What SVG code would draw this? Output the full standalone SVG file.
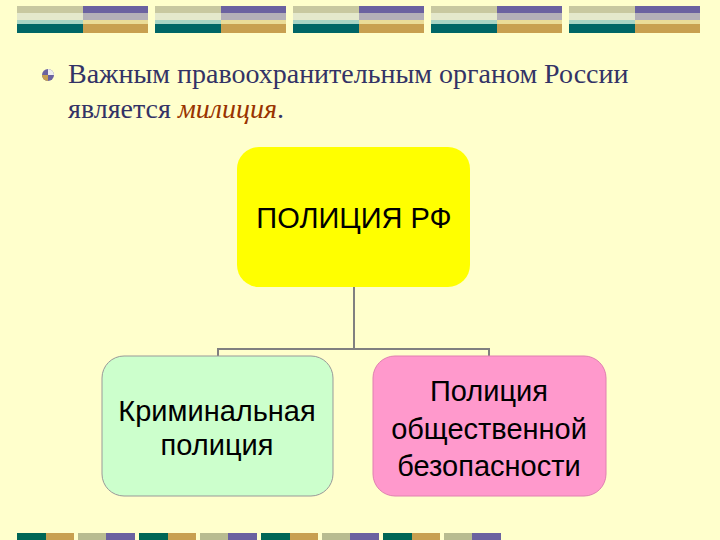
<svg xmlns="http://www.w3.org/2000/svg" width="720" height="540" viewBox="0 0 720 540">
<defs>
<style>
.t{font-family:"Liberation Serif",serif;font-size:28px;fill:#333366}
.s{font-family:"Liberation Sans",sans-serif;font-size:29px;fill:#000}
.c{stroke:#808080;stroke-width:2;fill:none}
</style>
<g id="blk">
<rect x="0" y="0" width="66" height="7" fill="#c8c8a0"/>
<rect x="0" y="7" width="66" height="7" fill="#e4e8cc"/>
<rect x="0" y="14" width="66" height="4" fill="#a8d4c4"/>
<rect x="0" y="18" width="66" height="9" fill="#006666"/>
<rect x="66" y="0" width="65" height="7" fill="#6b62a0"/>
<rect x="66" y="7" width="65" height="7" fill="#b4b0b8"/>
<rect x="66" y="14" width="65" height="4" fill="#eadc98"/>
<rect x="66" y="18" width="65" height="9" fill="#c8a050"/>
</g>
<g id="bot">
<rect x="0" y="0" width="29" height="7" fill="#006655"/>
<rect x="29" y="0" width="28" height="7" fill="#c8a050"/>
<rect x="61" y="0" width="28" height="7" fill="#b8bc90"/>
<rect x="89" y="0" width="29" height="7" fill="#6b62a0"/>
</g>
</defs>
<rect width="720" height="540" fill="#ffffcc"/>
<use href="#blk" x="17" y="6"/><use href="#blk" x="155" y="6"/><use href="#blk" x="293" y="6"/><use href="#blk" x="431" y="6"/><use href="#blk" x="569" y="6"/>
<use href="#bot" x="17" y="533"/><use href="#bot" x="139" y="533"/><use href="#bot" x="261" y="533"/><use href="#bot" x="383" y="533"/>
<g id="bullet">
<circle cx="48" cy="75" r="6" fill="#6b62a0"/>
<path d="M48 69 A6 6 0 0 1 54 75 L48 75 Z" fill="#eee"/>
<path d="M42 75 A6 6 0 0 0 48 81 L48 75 Z" fill="#c8a050"/>
</g>
<text class="t" x="68" y="83">Важным правоохранительным органом России</text>
<text class="t" x="68" y="118">является <tspan font-style="italic" fill="#993300">милиция</tspan>.</text>
<g id="connectors">
<path class="c" d="M354 287 V349 M218 356 V349 H489 V356"/>
</g>
<g id="root">
<rect x="237" y="147" width="233" height="140" rx="22" fill="#ffff00"/>
<text class="s" x="354" y="228" text-anchor="middle" font-size="31">ПОЛИЦИЯ РФ</text>
</g>
<g id="left">
<rect x="102" y="356" width="231" height="140" rx="22" fill="#ccffcc" stroke="#999" stroke-width="1"/>
<text class="s" x="217" y="421" text-anchor="middle">Криминальная</text>
<text class="s" x="217" y="455" text-anchor="middle">полиция</text>
</g>
<g id="right">
<rect x="373" y="356" width="233" height="140" rx="22" fill="#ff99cc" stroke="#e080b0" stroke-width="1"/>
<text class="s" x="489" y="401" text-anchor="middle" font-size="31">Полиция</text>
<text class="s" x="489" y="439" text-anchor="middle" font-size="31">общественной</text>
<text class="s" x="489" y="476" text-anchor="middle" font-size="31">безопасности</text>
</g>
</svg>
